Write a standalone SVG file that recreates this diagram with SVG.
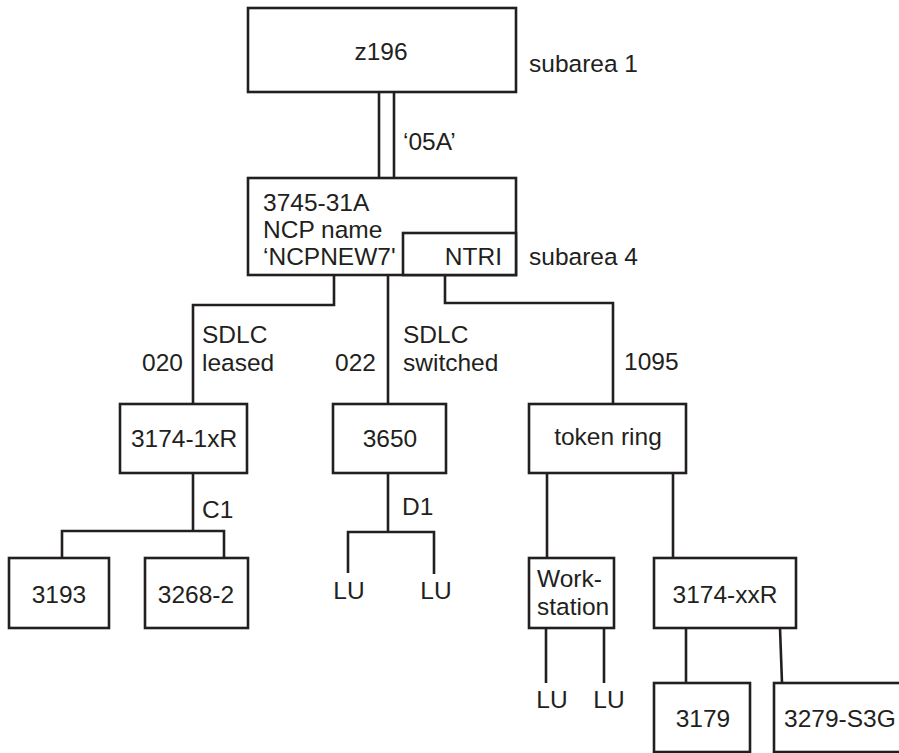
<svg xmlns="http://www.w3.org/2000/svg" width="899" height="753" viewBox="0 0 899 753">
<style>
rect{fill:#fff;stroke:#231f20;stroke-width:2.6}
.c path,.c line{fill:none;stroke:#231f20;stroke-width:2.6}
text{font-family:"Liberation Sans",Arial,sans-serif;font-size:24.5px;fill:#231f20}
.m{text-anchor:middle}
.e{text-anchor:end}
</style>
<rect x="0" y="0" width="899" height="753" style="stroke:none"/>
<g class="c">
<line x1="379" y1="92" x2="379" y2="178"/>
<line x1="394" y1="92" x2="394" y2="178"/>
<path d="M334 275V305H193V404"/>
<line x1="388" y1="275" x2="388" y2="404"/>
<path d="M445 275V303H613V404"/>
<path d="M193 473V531"/>
<path d="M62 558V531H224V558"/>
<path d="M388 473V532"/>
<path d="M348 573V532H434V574"/>
<line x1="547" y1="473" x2="547" y2="558"/>
<line x1="673" y1="473" x2="673" y2="558"/>
<line x1="546" y1="628" x2="546" y2="683"/>
<line x1="604" y1="628" x2="604" y2="683"/>
<line x1="686" y1="628" x2="686" y2="683"/>
<line x1="780" y1="628" x2="782" y2="683"/>
</g>
<g id="z196"><rect x="248" y="8" width="268" height="84"/><text class="m" x="381" y="60">z196</text></g>
<text x="529" y="72">subarea 1</text>
<text x="403" y="150">‘05A’</text>
<g id="ncp"><rect x="248" y="178" width="268" height="97"/>
<text x="263" y="211">3745-31A</text><text x="263" y="238">NCP name</text><text x="263" y="265">‘NCPNEW7'</text></g>
<g id="ntri"><rect x="403" y="233" width="113" height="42"/><text x="502" y="265" class="e">NTRI</text></g>
<text x="529" y="265">subarea 4</text>
<text x="183" y="371" class="e">020</text>
<text x="202" y="343">SDLC</text><text x="202" y="371">leased</text>
<text x="376" y="371" class="e">022</text>
<text x="403" y="343">SDLC</text><text x="403" y="371">switched</text>
<text x="624" y="370">1095</text>
<g id="n3174-1xR"><rect x="120" y="404" width="127" height="69"/><text class="m" x="184" y="447">3174-1xR</text></g>
<g id="n3650"><rect x="333" y="404" width="113" height="69"/><text class="m" x="390" y="447">3650</text></g>
<g id="tokenring"><rect x="529" y="404" width="157" height="69"/><text class="m" x="608" y="445">token ring</text></g>
<text x="202" y="518">C1</text>
<text x="402" y="515">D1</text>
<g id="n3193"><rect x="9" y="558" width="100" height="70"/><text class="m" x="59" y="603">3193</text></g>
<g id="n3268-2"><rect x="145" y="558" width="103" height="70"/><text class="m" x="196" y="603">3268-2</text></g>
<text class="m" x="349" y="599">LU</text>
<text class="m" x="436" y="599">LU</text>
<g id="workstation"><rect x="529" y="558" width="85" height="70"/><text x="537" y="587">Work-</text><text x="537" y="615">station</text></g>
<g id="n3174-xxR"><rect x="654" y="558" width="142" height="70"/><text class="m" x="725" y="603">3174-xxR</text></g>
<text class="m" x="552" y="708">LU</text>
<text class="m" x="609" y="708">LU</text>
<g id="n3179"><rect x="654" y="683" width="96" height="69"/><text class="m" x="703" y="727">3179</text></g>
<g id="n3279-S3G"><rect x="774" y="683" width="140" height="69"/><text x="784" y="727">3279-S3G</text></g>
</svg>
